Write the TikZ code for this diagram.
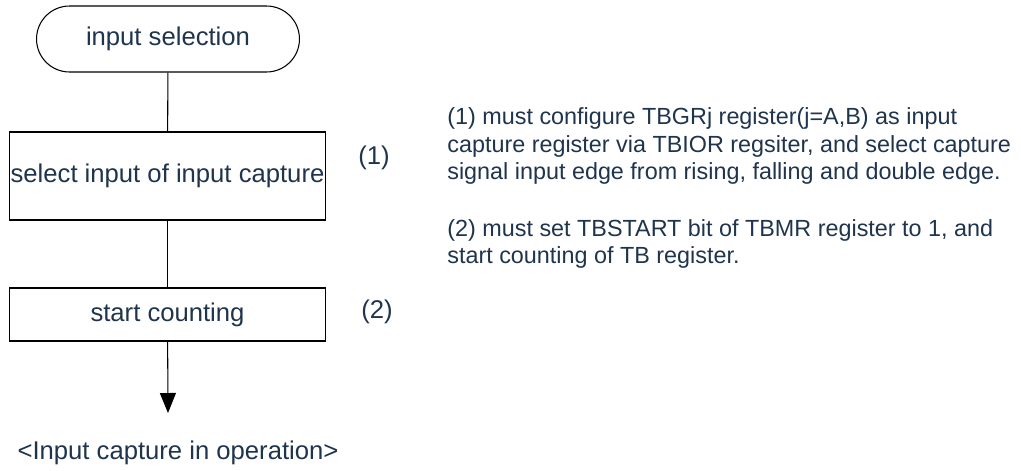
\documentclass[tikz,border=0pt]{standalone}
\usepackage{fontspec}
\setmainfont{Liberation Sans}
\usetikzlibrary{arrows.meta}
\definecolor{txtblue}{RGB}{31,52,77}

\tikzset{
  flowline/.style={line width=0.6pt, black},
  terminal/.style={draw, line width=0.6pt, rounded corners=0.66cm, minimum width=5.26cm, minimum height=1.32cm, text=txtblue, font=\fontsize{14.6}{17}\selectfont},
  process/.style={draw, line width=0.6pt, minimum width=6.34cm, inner sep=0pt, text=txtblue, font=\fontsize{14.6}{17}\selectfont},
  steplabel/.style={text=txtblue, font=\fontsize{14.6}{17}\selectfont},
  notetext/.style={anchor=west, align=left, inner sep=0pt, text=txtblue, font=\fontsize{13.3}{15.6}\selectfont}
}

\begin{document}
\begin{tikzpicture}[x=0.02cm, y=-0.02cm]

\useasboundingbox (0,0) rectangle (1021,470);

% Flow chart
\node[terminal] (start) at (168,39) {input selection};
\node[process, minimum height=1.76cm] (select) at (167.5,176) {select input of input capture};
\node[process, minimum height=1.06cm] (count) at (167.5,314.5) {start counting};
\coordinate (arrowend) at (168,413);
\node[steplabel] (result) at (178,453) {<Input capture in operation>};

\draw[flowline] (start) -- (select);
\draw[flowline] (select) -- (count);
\draw[flowline, -{Triangle[width=0.32cm, length=0.4cm]}] (count) -- (arrowend);

% Step numbers
\node[steplabel] (num1) at (374,158) {(1)};
\node[steplabel] (num2) at (377,312) {(2)};

% Notes
\node[notetext] (note1) at (447,146) {(1) must configure TBGRj register(j=A,B) as input\\capture register via TBIOR regsiter, and select capture\\signal input edge from rising, falling and double edge.};
\node[notetext] (note2) at (447,244) {(2) must set TBSTART bit of TBMR register to 1, and\\start counting of TB register.};

\end{tikzpicture}
\end{document}
